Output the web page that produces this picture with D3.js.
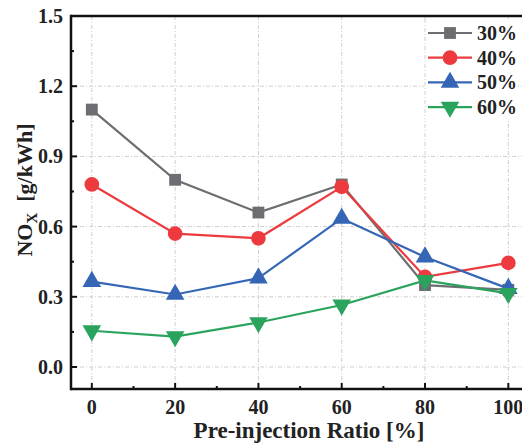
<!DOCTYPE html>
<html>
<head>
<meta charset="utf-8">
<script src="https://cdn.jsdelivr.net/npm/d3@7"></script>
<style>
  body { margin: 0; background: #fff; }
  svg { display: block; font-family: "Liberation Serif", "Times New Roman", serif; font-weight: bold; }
</style>
</head>
<body>
<div id="chart"></div>
<script>
const ratios = [0, 20, 40, 60, 80, 100];
const seriesNames = ["30%", "40%", "50%", "60%"];
const nox30 = [1.10, 0.80, 0.66, 0.78, 0.35, 0.33];
const nox40 = [0.78, 0.57, 0.55, 0.77, 0.385, 0.445];
const nox50 = [0.365, 0.31, 0.38, 0.635, 0.47, 0.335];
const nox60 = [0.155, 0.13, 0.19, 0.265, 0.37, 0.315];
const xTicks = [0, 20, 40, 60, 80, 100];
const yTicks = [0.0, 0.3, 0.6, 0.9, 1.2, 1.5];

const colors = ["#6d6e71", "#ec3a3f", "#3466b5", "#2aa35d"];
const symbols = [d3.symbolSquare, d3.symbolCircle, d3.symbolTriangle, "down"];
const allSeries = [nox30, nox40, nox50, nox60];

const W = 522, H = 444;
const margin = { top: 16, left: 71, bottom: 389 };

const svg = d3.select("#chart").append("svg")
    .attr("width", W)
    .attr("height", H);

const x = d3.scaleLinear().domain([-5, 105]).range([margin.left, margin.left + 110 * 4.165]);
const y = d3.scaleLinear().domain([-0.094, 1.5]).range([margin.bottom, margin.top]);

// grid lines
const grid = svg.append("g").attr("stroke", "#cfcfcf").attr("stroke-width", 1).attr("stroke-dasharray", "4,2,1,2");
xTicks.forEach(t => {
    grid.append("line").attr("x1", x(t)).attr("x2", x(t)).attr("y1", margin.top).attr("y2", margin.bottom);
});
yTicks.forEach(t => {
    grid.append("line").attr("x1", margin.left).attr("x2", W).attr("y1", y(t)).attr("y2", y(t));
});

// legend box (white background hides the grid)
svg.append("rect").attr("x", 424).attr("y", 19).attr("width", 94).attr("height", 100).attr("fill", "#fff");
svg.append("line").attr("x1", x(80)).attr("x2", x(80)).attr("y1", 19).attr("y2", 119)
    .attr("stroke", "#cfcfcf").attr("stroke-dasharray", "4,2,1,2");

const drawSymbol = (g, i, cx, cy) => {
    if (symbols[i] === "down") {
        g.append("path")
            .attr("d", d3.symbol().type(d3.symbolTriangle).size(150)())
            .attr("transform", `translate(${cx},${cy}) rotate(180)`)
            .attr("fill", colors[i]);
    } else {
        const size = i === 0 ? 140 : i === 1 ? 170 : 150;
        g.append("path")
            .attr("d", d3.symbol().type(symbols[i]).size(size)())
            .attr("transform", `translate(${cx},${cy})`)
            .attr("fill", colors[i]);
    }
};

// series lines and markers
const line = d3.line().x((d, i) => x(ratios[i])).y(d => y(d));
allSeries.forEach((vals, i) => {
    const g = svg.append("g");
    g.append("path")
        .datum(vals)
        .attr("d", line)
        .attr("fill", "none")
        .attr("stroke", colors[i])
        .attr("stroke-width", 2.2);
    vals.forEach((v, j) => drawSymbol(g, i, x(ratios[j]), y(v)));
});

// frame
const frame = svg.append("g").attr("stroke", "#111").attr("stroke-width", 2.5).attr("fill", "none");
frame.append("line").attr("x1", margin.left).attr("x2", margin.left).attr("y1", margin.top - 1.2).attr("y2", margin.bottom + 1.2);
frame.append("line").attr("x1", margin.left).attr("x2", W).attr("y1", margin.top).attr("y2", margin.top);
frame.append("line").attr("x1", margin.left).attr("x2", W).attr("y1", margin.bottom).attr("y2", margin.bottom);

// ticks (inward)
const ticks = svg.append("g").attr("stroke", "#111").attr("stroke-width", 2);
xTicks.forEach(t => {
    ticks.append("line").attr("x1", x(t)).attr("x2", x(t)).attr("y1", margin.bottom).attr("y2", margin.bottom - 6);
    if (t < 100) ticks.append("line").attr("x1", x(t + 10)).attr("x2", x(t + 10)).attr("y1", margin.bottom).attr("y2", margin.bottom - 3);
});
yTicks.forEach(t => {
    ticks.append("line").attr("x1", margin.left).attr("x2", margin.left + 6).attr("y1", y(t)).attr("y2", y(t));
    if (t < 1.5) ticks.append("line").attr("x1", margin.left).attr("x2", margin.left + 3).attr("y1", y(t + 0.15)).attr("y2", y(t + 0.15));
});

// tick labels
svg.append("g").selectAll("text").data(xTicks).enter().append("text")
    .attr("x", d => x(d)).attr("y", 414)
    .attr("text-anchor", "middle").attr("font-size", 20).attr("fill", "#222")
    .text(d => d);
svg.append("g").selectAll("text").data(yTicks).enter().append("text")
    .attr("x", 63).attr("y", d => y(d) + 7)
    .attr("text-anchor", "end").attr("font-size", 20).attr("fill", "#222")
    .text(d => d.toFixed(1));

// axis titles
svg.append("text").attr("x", 309).attr("y", 438)
    .attr("text-anchor", "middle").attr("font-size", 23).attr("fill", "#222")
    .text("Pre-injection Ratio [%]");

const yt = svg.append("text")
    .attr("transform", "translate(32,190) rotate(-90)")
    .attr("text-anchor", "middle").attr("font-size", 22).attr("fill", "#222");
yt.append("tspan").text("NO");
yt.append("tspan").attr("font-size", 15).attr("dy", 5).text("X");
yt.append("tspan").attr("dy", -5).text("\u00a0\u00a0[g/kWh]");

// legend
const leg = svg.append("g");
seriesNames.forEach((name, i) => {
    const ly = 33 + i * 24.7;
    leg.append("line").attr("x1", 428).attr("x2", 472).attr("y1", ly).attr("y2", ly)
        .attr("stroke", colors[i]).attr("stroke-width", 2.2);
    drawSymbol(leg, i, 450, ly);
    leg.append("text").attr("x", 477).attr("y", ly + 7)
        .attr("font-size", 20).attr("fill", "#222").text(name);
});
</script>
</body>
</html>
